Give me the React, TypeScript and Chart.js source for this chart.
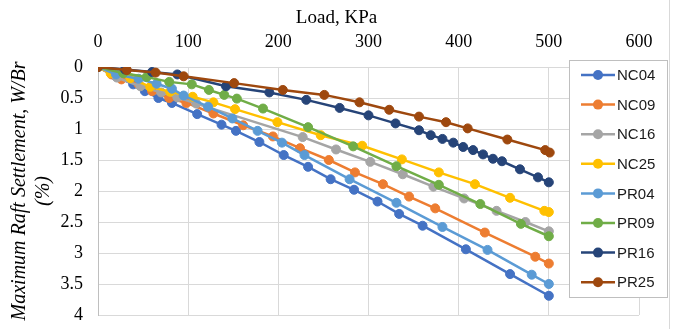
import React, { useEffect, useRef } from 'react';
import { Chart, registerables } from 'chart.js';

Chart.register(...registerables);

// ---- Data (Load in kPa, settlement W/Br in %) ----
const seriesNames = ['NC04', 'NC09', 'NC16', 'NC25', 'PR04', 'PR09', 'PR16', 'PR25'];
const seriesColors = ['#4472C4', '#ED7D31', '#A5A5A5', '#FFC000', '#5B9BD5', '#70AD47', '#264478', '#9E480E'];

const nc04Load = [0, 20, 39, 52, 67, 82, 110, 137, 153, 179, 206, 233, 258, 284, 310, 334, 360, 408, 457, 500];
const nc04Settle = [0, 0.15, 0.28, 0.39, 0.5, 0.58, 0.76, 0.93, 1.03, 1.21, 1.42, 1.61, 1.81, 1.98, 2.17, 2.37, 2.56, 2.94, 3.34, 3.69];

const nc09Load = [0, 15, 26, 45, 60, 79, 98, 128, 161, 194, 224, 256, 285, 316, 345, 374, 429, 485, 500];
const nc09Settle = [0, 0.12, 0.2, 0.28, 0.39, 0.5, 0.58, 0.75, 0.94, 1.12, 1.31, 1.5, 1.7, 1.89, 2.09, 2.28, 2.67, 3.06, 3.17];

const nc16Load = [0, 21, 47, 70, 88, 109, 227, 264, 302, 338, 372, 406, 442, 474, 500];
const nc16Settle = [0, 0.17, 0.31, 0.41, 0.49, 0.59, 1.13, 1.33, 1.53, 1.73, 1.93, 2.12, 2.32, 2.5, 2.65];

const nc25Load = [0, 14, 36, 58, 80, 105, 128, 152, 199, 247, 293, 337, 378, 418, 457, 495, 500];
const nc25Settle = [0, 0.1, 0.18, 0.32, 0.4, 0.48, 0.57, 0.68, 0.89, 1.1, 1.27, 1.49, 1.7, 1.89, 2.11, 2.32, 2.34];

const pr04Load = [0, 20, 45, 65, 82, 95, 122, 149, 177, 204, 229, 279, 331, 382, 432, 481, 500];
const pr04Settle = [0, 0.12, 0.19, 0.27, 0.35, 0.46, 0.64, 0.83, 1.03, 1.22, 1.42, 1.81, 2.19, 2.58, 2.95, 3.35, 3.5];

const pr09Load = [0, 28, 54, 79, 104, 123, 140, 154, 183, 233, 283, 331, 378, 424, 469, 500];
const pr09Settle = [0, 0.1, 0.16, 0.24, 0.28, 0.37, 0.45, 0.51, 0.67, 0.97, 1.28, 1.6, 1.9, 2.21, 2.53, 2.73];

const pr16Load = [0, 30, 60, 88, 142, 190, 231, 268, 300, 330, 356, 369, 382, 394, 405, 416, 427, 438, 448, 468, 488, 500];
const pr16Settle = [0, 0.04, 0.08, 0.12, 0.31, 0.41, 0.53, 0.66, 0.78, 0.91, 1.02, 1.1, 1.16, 1.22, 1.29, 1.34, 1.41, 1.48, 1.52, 1.65, 1.78, 1.86];

const pr25Load = [0, 32, 64, 95, 151, 205, 251, 290, 323, 356, 386, 410, 454, 496, 501];
const pr25Settle = [0, 0.05, 0.09, 0.15, 0.26, 0.37, 0.45, 0.57, 0.69, 0.8, 0.89, 0.99, 1.17, 1.34, 1.38];

const allLoads = [nc04Load, nc09Load, nc16Load, nc25Load, pr04Load, pr09Load, pr16Load, pr25Load];
const allSettles = [nc04Settle, nc09Settle, nc16Settle, nc25Settle, pr04Settle, pr09Settle, pr16Settle, pr25Settle];

const xTitle = 'Load, KPa';
const yTitle = ['Maximum Raft Settlement, W/Br', '(%)'];

const serif = "'Liberation Serif', 'Times New Roman', serif";
const sans = "'Liberation Sans', Arial, sans-serif";

const decorPlugin = {
  id: 'decor',
  afterDraw(chart: any) {
    const ctx = chart.ctx as CanvasRenderingContext2D;
    ctx.save();
    // x-axis title, centred over the whole chart as in the source
    ctx.fillStyle = '#000';
    ctx.font = `19px ${serif}`;
    ctx.textAlign = 'center';
    ctx.textBaseline = 'middle';
    ctx.fillText(xTitle, 336.5, 18);

    // outer chart border on the right
    ctx.strokeStyle = '#D9D9D9';
    ctx.lineWidth = 1;
    ctx.beginPath();
    ctx.moveTo(669.5, 0);
    ctx.lineTo(669.5, 329);
    ctx.stroke();

    // legend box
    const bx = 569.5, by = 60.5, bw = 98, bh = 237;
    ctx.fillStyle = '#ffffff';
    ctx.fillRect(bx, by, bw, bh);
    ctx.strokeStyle = '#BFBFBF';
    ctx.lineWidth = 1;
    ctx.strokeRect(bx, by, bw, bh);
    chart.data.datasets.forEach((ds: any, i: number) => {
      const y = 75 + i * 29.6;
      ctx.strokeStyle = ds.borderColor;
      ctx.lineWidth = 2.5;
      ctx.beginPath();
      ctx.moveTo(581, y);
      ctx.lineTo(615, y);
      ctx.stroke();
      ctx.fillStyle = ds.borderColor;
      ctx.beginPath();
      ctx.arc(598, y, 5, 0, Math.PI * 2);
      ctx.fill();
      ctx.fillStyle = '#1a1a1a';
      ctx.font = `15px ${sans}`;
      ctx.textAlign = 'left';
      ctx.textBaseline = 'middle';
      ctx.fillText(ds.label, 617, y + 1);
    });
    ctx.restore();
  },
};

export default function App() {
  const canvasRef = useRef<HTMLCanvasElement | null>(null);

  useEffect(() => {
    if (!canvasRef.current) return;
    const datasets = seriesNames.map((name, i) => ({
      label: name,
      data: allLoads[i].map((x, j) => ({ x, y: allSettles[i][j] })),
      borderColor: seriesColors[i],
      backgroundColor: seriesColors[i],
      pointBackgroundColor: seriesColors[i],
      pointBorderColor: seriesColors[i],
      pointRadius: 4.5,
      pointBorderWidth: 1,
      borderWidth: 2.5,
      showLine: true,
      tension: 0,
      order: seriesNames.length - i,
    }));

    const chart = new Chart(canvasRef.current, {
      type: 'scatter',
      data: { datasets },
      plugins: [decorPlugin],
      options: {
        responsive: false,
        animation: false,
        layout: { padding: { left: 0, right: 39, top: 0, bottom: 14 } },
        plugins: {
          legend: { display: false },
          tooltip: { enabled: false },
        },
        scales: {
          x: {
            type: 'linear',
            position: 'top',
            min: 0,
            max: 600,
            ticks: {
              stepSize: 100,
              color: '#000',
              padding: 14,
              font: { family: serif, size: 18, lineHeight: 1.2 },
            },
            grid: { color: '#D9D9D9', lineWidth: 1, drawTicks: false },
            border: { display: true, color: '#D9D9D9' },
            title: { display: false, text: xTitle },
            afterFit: (scale: any) => {
              scale.height = 67;
              scale.paddingLeft = 0;
              scale.paddingRight = 0;
            },
          },
          y: {
            type: 'linear',
            reverse: true,
            min: 0,
            max: 4,
            ticks: {
              stepSize: 0.5,
              color: '#000',
              padding: 15,
              font: { family: serif, size: 18 },
              callback: (v: any) => String(Math.round(Number(v) * 10) / 10),
            },
            grid: { color: '#D9D9D9', lineWidth: 1, drawTicks: false },
            border: { display: true, color: '#BFBFBF' },
            title: {
              display: true,
              text: yTitle,
              color: '#000',
              padding: { top: 8, bottom: 0 },
              font: { family: serif, size: 20, style: 'italic', lineHeight: 1.2 },
            },
            afterFit: (scale: any) => {
              scale.width = 98;
              scale.paddingTop = 0;
              scale.paddingBottom = 0;
            },
          },
        },
      },
    });
    return () => chart.destroy();
  }, []);

  return (
    <div style={{ position: 'absolute', left: 0, top: 0, width: 678, height: 329, background: '#fff' }}>
      <canvas ref={canvasRef} width={678} height={329} style={{ display: 'block' }} />
    </div>
  );
}
